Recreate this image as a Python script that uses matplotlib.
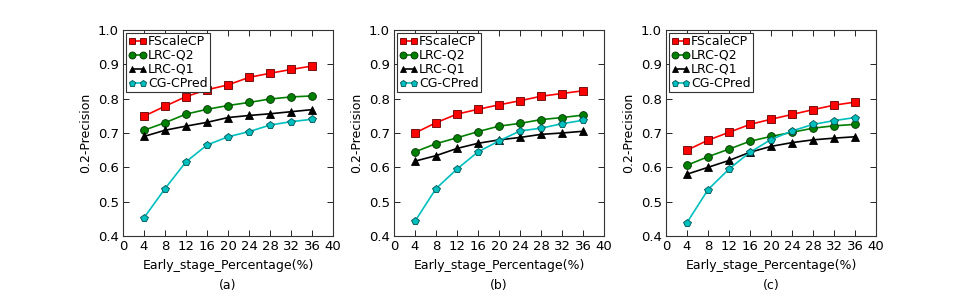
import matplotlib.pyplot as plt

# x axis: early stage percentage
pct = [4, 8, 12, 16, 20, 24, 28, 32, 36]

# panel (a)
a_fscale = [0.749, 0.778, 0.806, 0.826, 0.840, 0.862, 0.874, 0.885, 0.895]
a_q2 = [0.708, 0.730, 0.755, 0.769, 0.780, 0.789, 0.799, 0.805, 0.808]
a_q1 = [0.690, 0.708, 0.720, 0.731, 0.745, 0.751, 0.756, 0.762, 0.768]
a_cg = [0.453, 0.538, 0.616, 0.665, 0.689, 0.704, 0.723, 0.733, 0.740]

# panel (b)
b_fscale = [0.700, 0.730, 0.755, 0.769, 0.782, 0.794, 0.807, 0.815, 0.823]
b_q2 = [0.645, 0.669, 0.686, 0.704, 0.720, 0.728, 0.739, 0.745, 0.752]
b_q1 = [0.618, 0.634, 0.655, 0.670, 0.680, 0.687, 0.696, 0.700, 0.705]
b_cg = [0.443, 0.538, 0.595, 0.645, 0.677, 0.706, 0.714, 0.727, 0.737]

# panel (c)
c_fscale = [0.650, 0.679, 0.702, 0.725, 0.740, 0.754, 0.768, 0.781, 0.790]
c_q2 = [0.606, 0.631, 0.653, 0.676, 0.690, 0.702, 0.714, 0.721, 0.725]
c_q1 = [0.580, 0.600, 0.620, 0.644, 0.661, 0.672, 0.680, 0.685, 0.689]
c_cg = [0.439, 0.535, 0.595, 0.644, 0.681, 0.706, 0.725, 0.736, 0.745]

panels = [
    ("(a)", a_fscale, a_q2, a_q1, a_cg),
    ("(b)", b_fscale, b_q2, b_q1, b_cg),
    ("(c)", c_fscale, c_q2, c_q1, c_cg),
]

plt.rcParams["font.size"] = 9

fig = plt.figure(figsize=(9.74, 2.97), dpi=100)
lefts = [123, 394, 666]

for left, (tag, fs, q2, q1, cg) in zip(lefts, panels):
    ax = fig.add_axes([left / 974, 1 - 236 / 297, 210 / 974, 206 / 297])
    ax.plot(pct, fs, color="#ff0000", marker="s", ms=5.2, mec="#600000", mew=0.6, lw=1.2, label="FScaleCP")
    ax.plot(pct, q2, color="#008000", marker="o", ms=5.6, mec="#003000", mew=0.6, lw=1.2, label="LRC-Q2")
    ax.plot(pct, q1, color="black", marker="^", ms=5.4, mec="black", mew=0.6, lw=1.2, label="LRC-Q1")
    ax.plot(pct, cg, color="#00bfbf", marker="p", ms=5.4, mec="#005050", mew=0.6, lw=1.2, label="CG-CPred")

    ax.set_xlim(0, 40)
    ax.set_ylim(0.4, 1.0)
    ax.set_xticks(range(0, 41, 4))
    ax.set_yticks([0.4, 0.5, 0.6, 0.7, 0.8, 0.9, 1.0])
    ax.set_yticklabels(["0.4", "0.5", "0.6", "0.7", "0.8", "0.9", "1.0"])
    ax.tick_params(direction="in", top=True, right=True, length=4, width=0.6, pad=3, labelsize=9.5)
    for s in ax.spines.values():
        s.set_linewidth(0.8)
        s.set_color("#333333")

    ax.set_xlabel("Early_stage_Percentage(%)\n" + tag, fontsize=9, labelpad=4, linespacing=1.7)
    ax.set_ylabel("0.2-Precision", fontsize=9, labelpad=4)

    leg = ax.legend(loc="upper left", numpoints=2, fontsize=9, handlelength=1.5,
                    handletextpad=0.1, borderpad=0.15, labelspacing=0.08,
                    borderaxespad=0.25, fancybox=False, framealpha=1, markerscale=0.9)
    leg.get_frame().set_edgecolor("#333333")
    leg.get_frame().set_linewidth(0.8)

fig.savefig("out.png", dpi=100)
